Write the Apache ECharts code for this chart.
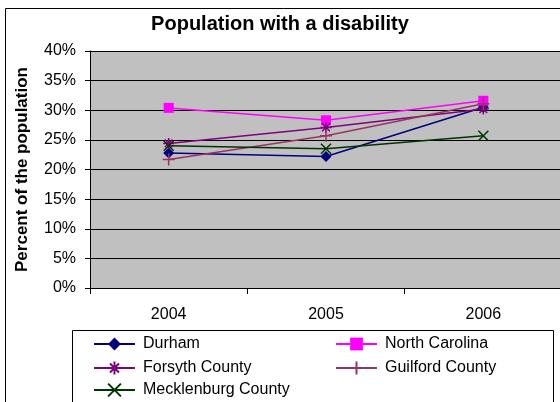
<!DOCTYPE html>
<html>
<head>
<meta charset="utf-8">
<script src="https://cdn.jsdelivr.net/npm/echarts@6/dist/echarts.min.js"></script>
<style>
  html, body { margin: 0; padding: 0; background: #fff; }
  #chart { width: 560px; height: 402px; }
</style>
</head>
<body>
<div id="chart"></div>
<script>
// data (percent)
const years = ['2004', '2005', '2006'];
const durham = [22.8, 22.2, 30.5];
const northCarolina = [30.4, 28.3, 31.6];
const forsyth = [24.4, 27.1, 30.2];
const guilford = [21.7, 25.7, 31.1];
const mecklenburg = [24.0, 23.5, 25.7];

const FONT = '"Liberation Sans", Arial, sans-serif';

// stroke-only markers
const asterisk = 'path://M5,0L5,10M0,5L10,5M1.5,1.5L8.5,8.5M8.5,1.5L1.5,8.5';
const plus = 'path://M5,0L5,10M0,5L10,5';
const cross = 'path://M0,0L10,10M10,0L0,10';

function lineSeries(name, data, color, symbol, size, filled) {
    return {
        name: name,
        type: 'line',
        data: data,
        symbol: symbol,
        symbolSize: size,
        showSymbol: true,
        lineStyle: { color: color, width: 1.5 },
        itemStyle: filled
            ? { color: color }
            : { color: 'rgba(0,0,0,0)', borderColor: color, borderWidth: 1.5 },
        emphasis: { disabled: true },
        animation: false
    };
}

// one legend per entry so the two columns line up like the original
function legendItem(name, left, top) {
    return {
        data: [name],
        left: left,
        top: top,
        itemWidth: 41,
        itemHeight: 16,
        textStyle: { fontSize: 16, lineHeight: 16, color: '#000', fontFamily: FONT, padding: [0, 0, 0, 3] }
    };
}

const myChart = echarts.init(document.getElementById('chart'));
myChart.setOption({
    animation: false,
    textStyle: { fontFamily: FONT },
    title: {
        text: 'Population with a disability',
        left: 'center',
        top: 9,
        textStyle: { fontSize: 20, fontWeight: 'bold', color: '#000', fontFamily: FONT }
    },
    graphic: [
        {   // outer chart border
            type: 'rect',
            shape: { x: 5.5, y: 8.5, width: 580, height: 420 },
            style: { fill: 'none', stroke: '#000', lineWidth: 1 },
            z: -10
        },
        {   // legend box
            type: 'rect',
            shape: { x: 72.5, y: 330.5, width: 481, height: 90 },
            style: { fill: '#fff', stroke: '#000', lineWidth: 1 },
            z: -5
        }
    ],
    grid: {
        left: 90,
        right: -2,
        top: 51,
        bottom: 114,
        outerBoundsMode: 'none',
        containLabel: false,
        show: true,
        backgroundColor: '#C0C0C0',
        borderWidth: 0
    },
    legend: [
        legendItem('Durham', 88, 331),
        legendItem('Forsyth County', 88, 355),
        legendItem('Mecklenburg County', 88, 377),
        legendItem('North Carolina', 330, 331),
        legendItem('Guilford County', 330, 355)
    ],
    xAxis: {
        type: 'category',
        data: years,
        boundaryGap: true,
        axisLine: { lineStyle: { color: '#000', width: 1 } },
        axisTick: { show: true, alignWithLabel: false, length: 6, lineStyle: { color: '#000' } },
        axisLabel: { color: '#000', fontSize: 16, margin: 19, fontFamily: FONT },
        splitLine: { show: false }
    },
    yAxis: {
        type: 'value',
        min: 0,
        max: 40,
        interval: 5,
        name: 'Percent of the population',
        nameLocation: 'middle',
        nameRotate: 90,
        nameGap: 59,
        nameTextStyle: { fontSize: 17, fontWeight: 'bold', color: '#000', fontFamily: FONT },
        axisLine: { show: true, lineStyle: { color: '#000', width: 1 } },
        axisTick: { show: true, length: 5, lineStyle: { color: '#000' } },
        axisLabel: { formatter: '{value}%', color: '#000', fontSize: 16, margin: 14, fontFamily: FONT },
        splitLine: { show: true, lineStyle: { color: '#000', width: 1 } }
    },
    series: [
        lineSeries('Durham', durham, '#000080', 'diamond', 11, true),
        lineSeries('North Carolina', northCarolina, '#FF00FF', 'rect', 10, true),
        lineSeries('Forsyth County', forsyth, '#800080', asterisk, 11, false),
        lineSeries('Guilford County', guilford, '#993366', plus, 12, false),
        lineSeries('Mecklenburg County', mecklenburg, '#003300', cross, 10, false)
    ]
});
</script>
</body>
</html>
